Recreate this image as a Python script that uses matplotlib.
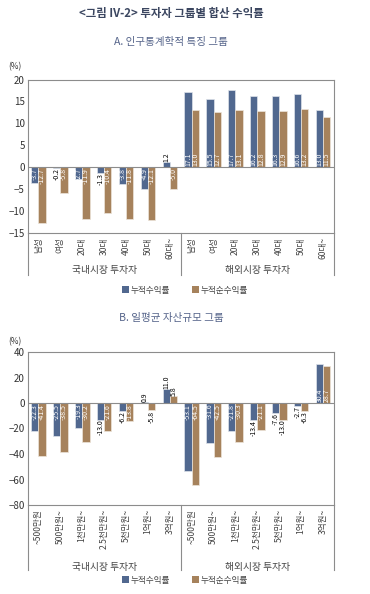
import matplotlib
matplotlib.use("Agg")
import matplotlib.pyplot as plt
from matplotlib.patches import Patch
from matplotlib.transforms import blended_transform_factory
import numpy as np

plt.rcParams['font.family'] = ['Noto Sans CJK KR', 'DejaVu Sans']

title = "<그림 IV-2> 투자자 그룹별 합산 수익률"
sub_a = "A. 인구통계학적 특징 그룹"
sub_b = "B. 일평균 자산규모 그룹"
groups = ["국내시장 투자자", "해외시장 투자자"]
series_names = ["누적수익률", "누적순수익률"]

cats_a = ["남성", "여성", "20대", "30대", "40대", "50대", "60대~"]
a_gross = [-3.7, -0.2, -2.7, -1.3, -3.8, -4.9, 1.2,
           17.1, 15.5, 17.7, 16.2, 16.3, 16.6, 13.0]
a_net = [-12.7, -5.8, -11.9, -10.4, -11.8, -12.1, -5.0,
         13.0, 12.7, 13.1, 12.8, 12.9, 13.2, 11.5]

cats_b = ["~500만원", "500만원~", "1천만원~", "2.5천만원~", "5천만원~", "1억원~", "3억원~"]
b_gross = [-22.3, -25.5, -19.3, -13.0, -6.2, 0.9, 11.0,
           -53.1, -31.6, -21.8, -13.4, -7.6, -2.7, 30.4]
b_net = [-41.4, -38.5, -30.2, -21.6, -13.8, -5.8, 5.8,
         -64.5, -42.5, -30.3, -21.1, -13.0, -6.3, 28.7]

BLUE = "#51688f"
BROWN = "#a6825c"
W, H = 370, 594

fig = plt.figure(figsize=(W / 100, H / 100), dpi=100)
fig.text(171 / W, 1 - 13 / H, title, ha='center', va='center', fontsize=8.2,
         fontweight='bold', color='#3b4660')
fig.text(171 / W, 1 - 42 / H, sub_a, ha='center', va='center', fontsize=7.6,
         color='#55648a')
fig.text(171 / W, 1 - 318 / H, sub_b, ha='center', va='center', fontsize=7.6,
         color='#55648a')


def panel(top, bottom, cats, gross, net, ylim, step, thresh, legend_y, group_y, sep_y, pct_y):
    left, right = 27.5, 334
    ax = fig.add_axes([left / W, 1 - bottom / H, (right - left) / W, (bottom - top) / H])
    n = len(gross)
    x = np.arange(n)
    bw = 0.333
    ax.bar(x - bw / 2, gross, bw, color=BLUE, edgecolor='#dfe3ea', linewidth=0.5, zorder=2)
    ax.bar(x + bw / 2, net, bw, color=BROWN, edgecolor='#ece4da', linewidth=0.5, zorder=2)
    ax.axhline(0, color='#8c8c8c', lw=0.8, zorder=3)
    ax.set_xlim(-0.5, n - 0.5)
    ax.set_ylim(*ylim)
    ax.set_yticks(np.arange(ylim[0], ylim[1] + 0.1, step))
    ax.tick_params(axis='y', length=0, pad=2, labelsize=7, labelcolor='#333333')
    ax.set_xticks(x)
    ax.set_xticklabels(cats + cats, rotation=90, fontsize=6.2, color='#444444')
    ax.tick_params(axis='x', length=0, pad=3)
    for s in ax.spines.values():
        s.set_color('#8c8c8c')
        s.set_linewidth(0.8)
    span = ylim[1] - ylim[0]
    for vals, off in ((gross, -bw / 2), (net, bw / 2)):
        for xi, v in zip(x, vals):
            txt = f"{v:.1f}"
            if abs(v) >= thresh:
                col = 'white'
                if v < 0:
                    y, va = -0.005 * span, 'top'
                else:
                    y, va = 0.005 * span, 'bottom'
            else:
                col = 'black'
                y, va = (v, 'top') if v < 0 else (v, 'bottom')
            ax.text(xi + off, y, txt, rotation=90, ha='center', va=va, fontsize=5,
                    color=col, zorder=4)
    tr = blended_transform_factory(ax.transData, fig.transFigure)
    for xs in (-0.5, n / 2 - 0.5, n - 0.5):
        ax.plot([xs, xs], [1 - bottom / H, 1 - sep_y / H], color='#8c8c8c', lw=0.8,
                transform=tr, clip_on=False)
    for gi, g in enumerate(groups):
        cx = (n / 2) * gi + (n / 2 - 1) / 2
        ax.text(cx, 1 - group_y / H, g, transform=tr, ha='center', va='center',
                fontsize=7, color='#444444')
    fig.text(15 / W, 1 - pct_y / H, "(%)", ha='center', va='center', fontsize=6,
             color='#333333')
    handles = [Patch(facecolor=BLUE, edgecolor='none'), Patch(facecolor=BROWN, edgecolor='none')]
    fig.legend(handles, series_names, loc='center', bbox_to_anchor=(185 / W, 1 - legend_y / H),
               ncol=2, frameon=False, fontsize=6.2, handlelength=0.8, handleheight=0.8,
               handletextpad=0.2, columnspacing=2.5, labelcolor='#444444')
    return ax


panel(79.5, 233, cats_a, a_gross, a_net, (-15, 20), 5, 2.0, 290, 270, 275, 67)
panel(352, 505, cats_b, b_gross, b_net, (-80, 40), 20, 13.5, 580, 567, 570, 342)

fig.savefig("out.png", dpi=100)
